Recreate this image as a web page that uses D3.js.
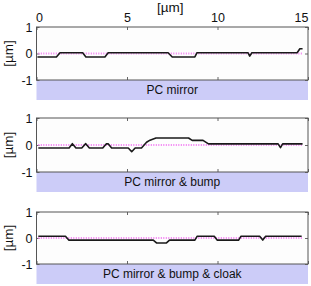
<!DOCTYPE html>
<html>
<head>
<meta charset="utf-8">
<script src="https://cdn.jsdelivr.net/npm/d3@7"></script>
<style>
  body { margin: 0; background: #fff; }
  svg { display: block; font-family: "Liberation Sans", Arial, sans-serif; }
</style>
</head>
<body>
<div id="chart"></div>
<script>
// x positions [µm] and heights [µm]
var mirrorX = [0.05, 1.1, 1.3, 2.55, 2.73, 3.78, 3.96, 7.27, 7.5, 8.75, 8.87, 11.68, 11.78, 11.9, 14.4, 14.55, 14.7];
var mirrorY = [-0.13, -0.13, 0.03, 0.03, -0.13, -0.13, 0.03, 0.03, -0.13, -0.13, 0.03, 0.03, -0.1, 0.03, 0.03, 0.18, 0.18];

var bumpX = [0.1, 1.8, 1.98, 2.18, 2.5, 2.72, 2.92, 3.66, 3.85, 3.97, 4.15, 5.07, 5.26, 5.45, 5.8, 6.08, 6.27, 6.6, 8.4, 8.6, 9.2, 9.5, 13.35, 13.48, 13.6, 14.7];
var bumpY = [-0.11, -0.11, 0.05, -0.11, -0.11, 0.05, -0.11, -0.11, 0.04, 0.04, -0.11, -0.11, -0.25, -0.11, -0.11, 0.1, 0.18, 0.26, 0.26, 0.17, 0.17, 0.04, 0.04, -0.1, 0.04, 0.04];

var cloakX = [0.1, 1.6, 1.78, 6.45, 6.63, 7.18, 7.35, 8.75, 8.88, 9.82, 9.98, 11.17, 11.3, 12.33, 12.5, 12.66, 14.65];
var cloakY = [0.07, 0.07, -0.08, -0.08, -0.19, -0.19, -0.08, -0.08, 0.07, 0.07, -0.08, -0.08, 0.07, 0.07, -0.08, 0.07, 0.07];

var refX = [0.1, 14.7];
var refY = [0, 0];

var xTicks = [0, 5, 10, 15];
var yTicks = [-1, 0, 1];
var panelTitles = ["PC mirror", "PC mirror & bump", "PC mirror & bump & cloak"];
var unitLabel = "[µm]";

var panels = [
    {xs: mirrorX, ys: mirrorY, title: panelTitles[0], top: 27, h: 53},
    {xs: bumpX, ys: bumpY, title: panelTitles[1], top: 118, h: 54},
    {xs: cloakX, ys: cloakY, title: panelTitles[2], top: 212, h: 52}
];

var W = 311, H = 286;
var left = 36.5, right = 308;
var bandH = 20;

var svg = d3.select("#chart").append("svg")
    .attr("width", W).attr("height", H);

var xScale = d3.scaleLinear().domain([0, 15]).range([left, right]);

// top axis labels (end labels kept inside the page like the original)
var topAxis = svg.append("g")
    .attr("transform", `translate(0, ${panels[0].top})`)
    .call(d3.axisTop(xScale).tickValues(xTicks).tickSize(0).tickPadding(5).tickFormat(d3.format("d")));
topAxis.select(".domain").remove();
topAxis.selectAll("text")
    .attr("font-size", 12.5)
    .attr("font-family", "Liberation Sans, Arial, sans-serif")
    .attr("fill", "#111")
    .attr("text-anchor", (d, i) => i == 0 ? "start" : (i == xTicks.length - 1 ? "end" : "middle"))
    .attr("dx", (d, i) => i == 0 ? -1 : (i == xTicks.length - 1 ? 0 : 0));

svg.append("text")
    .attr("x", (left + right) / 2 - 2)
    .attr("y", 12)
    .attr("text-anchor", "middle")
    .attr("font-size", 13.5)
    .attr("fill", "#111")
    .text(unitLabel);

panels.forEach(function(p){
    var yScale = d3.scaleLinear().domain([-1, 1]).range([p.top + p.h, p.top]);
    var g = svg.append("g");

    // plot box
    g.append("rect")
        .attr("x", left).attr("y", p.top)
        .attr("width", right - left).attr("height", p.h)
        .attr("fill", "#fdfdfd");

    // title band
    g.append("rect")
        .attr("x", left).attr("y", p.top + p.h)
        .attr("width", right - left).attr("height", bandH)
        .attr("fill", "#ccccf8");

    g.append("text")
        .attr("x", (left + right) / 2)
        .attr("y", p.top + p.h + bandH / 2 + 4)
        .attr("text-anchor", "middle")
        .attr("font-size", 12)
        .attr("fill", "#111")
        .text(p.title);

    // ticks on all four sides, pointing in
    var ax = [
        {a: d3.axisBottom(xScale).tickValues(xTicks), t: `translate(0, ${p.top})`},
        {a: d3.axisTop(xScale).tickValues(xTicks), t: `translate(0, ${p.top + p.h})`},
        {a: d3.axisLeft(yScale).tickValues(yTicks), t: `translate(${right}, 0)`}
    ];
    ax.forEach(function(o){
        var s = g.append("g").attr("transform", o.t)
            .call(o.a.tickSize(3).tickFormat(""));
        s.select(".domain").remove();
        s.selectAll("line").attr("stroke", "#666");
    });

    var yl = g.append("g").attr("transform", `translate(${left}, 0)`)
        .call(d3.axisRight(yScale).tickValues(yTicks).tickSize(3).tickFormat(d3.format("d")));
    yl.select(".domain").remove();
    yl.selectAll("line").attr("stroke", "#666");
    yl.selectAll("text")
        .attr("x", -4)
        .attr("text-anchor", "end")
        .attr("font-size", 12.5)
        .attr("font-family", "Liberation Sans, Arial, sans-serif")
        .attr("fill", "#111")
        .text(d => d3.format("d")(d).replace("−", "-"));

    // box outline
    g.append("rect")
        .attr("x", left).attr("y", p.top)
        .attr("width", right - left).attr("height", p.h)
        .attr("fill", "none")
        .attr("stroke", "#555")
        .attr("stroke-width", 1);

    g.append("text")
        .attr("transform", `translate(13, ${p.top + p.h / 2}) rotate(-90)`)
        .attr("text-anchor", "middle")
        .attr("font-size", 13.5)
        .attr("fill", "#111")
        .text(unitLabel);

    var line = d3.line()
        .x(d => xScale(d[0]))
        .y(d => yScale(d[1]));

    // reference (flat) surface
    g.append("path")
        .datum(d3.zip(refX, refY))
        .attr("d", line)
        .attr("fill", "none")
        .attr("stroke", "#f27af2")
        .attr("stroke-width", 2)
        .attr("stroke-dasharray", "1,1.5");

    // measured profile
    g.append("path")
        .datum(d3.zip(p.xs, p.ys))
        .attr("d", line)
        .attr("fill", "none")
        .attr("stroke", "#1a1a1a")
        .attr("stroke-width", 1.6)
        .attr("stroke-linejoin", "round");
});
</script>
</body>
</html>
